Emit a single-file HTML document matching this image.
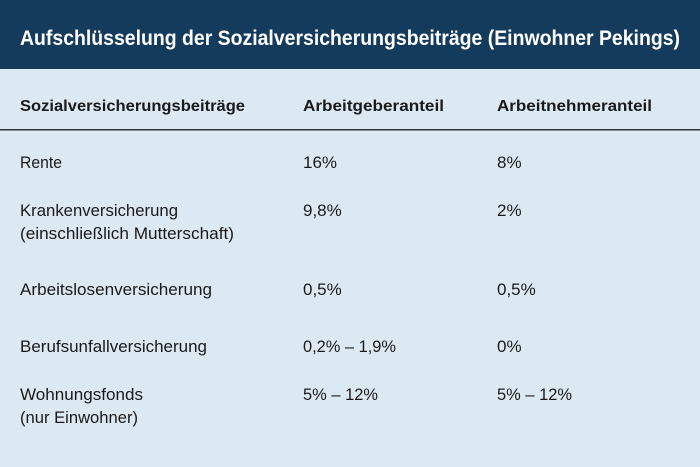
<!DOCTYPE html>
<html><head><meta charset="utf-8"><style>
html,body{margin:0;padding:0;width:700px;height:467px;overflow:hidden;background:#dde9f2}
svg{display:block}
text{font-family:"Liberation Sans",sans-serif;fill:#1a1a1a}
</style></head><body>
<svg width="700" height="467" xmlns="http://www.w3.org/2000/svg">
<rect x="0" y="0" width="700" height="467" fill="#dde9f2"/>
<rect x="0" y="0" width="700" height="69" fill="#143a5c"/>
<text x="20" y="45" font-size="21" font-weight="bold" style="fill:#fff" textLength="660" lengthAdjust="spacingAndGlyphs">Aufschlüsselung der Sozialversicherungsbeiträge (Einwohner Pekings)</text>
<g font-size="16" font-weight="bold">
<text x="20" y="111" textLength="225" lengthAdjust="spacingAndGlyphs">Sozialversicherungsbeiträge</text>
<text x="303" y="111" textLength="141" lengthAdjust="spacingAndGlyphs">Arbeitgeberanteil</text>
<text x="497" y="111" textLength="155" lengthAdjust="spacingAndGlyphs">Arbeitnehmeranteil</text>
</g>
<rect x="0" y="129" width="700" height="1.5" fill="#333"/>
<g font-size="17">
<text x="20" y="168" textLength="42" lengthAdjust="spacingAndGlyphs">Rente</text>
<text x="303" y="168">16%</text>
<text x="497" y="168">8%</text>
<text x="20" y="216" textLength="158" lengthAdjust="spacingAndGlyphs">Krankenversicherung</text>
<text x="20" y="239" textLength="214" lengthAdjust="spacingAndGlyphs">(einschließlich Mutterschaft)</text>
<text x="303" y="216">9,8%</text>
<text x="497" y="216">2%</text>
<text x="20" y="295" textLength="192" lengthAdjust="spacingAndGlyphs">Arbeitslosenversicherung</text>
<text x="303" y="295">0,5%</text>
<text x="497" y="295">0,5%</text>
<text x="20" y="352" textLength="187" lengthAdjust="spacingAndGlyphs">Berufsunfallversicherung</text>
<text x="303" y="352" textLength="93" lengthAdjust="spacingAndGlyphs">0,2% – 1,9%</text>
<text x="497" y="352">0%</text>
<text x="20" y="400" textLength="123" lengthAdjust="spacingAndGlyphs">Wohnungsfonds</text>
<text x="20" y="423" textLength="118" lengthAdjust="spacingAndGlyphs">(nur Einwohner)</text>
<text x="303" y="400" textLength="75" lengthAdjust="spacingAndGlyphs">5% – 12%</text>
<text x="497" y="400" textLength="75" lengthAdjust="spacingAndGlyphs">5% – 12%</text>
</g>
</svg>
</body></html>
